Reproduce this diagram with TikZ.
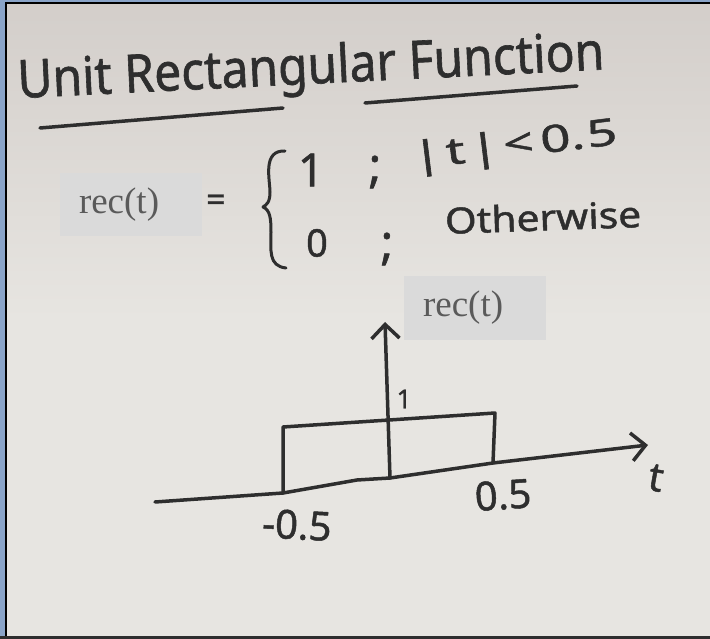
\documentclass[tikz,border=0pt]{standalone}
\usepackage{fontspec}
\setmainfont{Liberation Serif}
\newfontfamily\handfont[FakeBold=1.2]{Noto Sans}
\usepackage{xcolor}
\usetikzlibrary{arrows.meta,positioning}

\definecolor{papertop}{HTML}{D3CECA}
\definecolor{paper}{HTML}{E7E5E1}
\definecolor{ink}{HTML}{2E2E2E}
\definecolor{tagfill}{HTML}{DADADA}
\definecolor{tagtext}{HTML}{5A5A5A}
\definecolor{frameblue}{HTML}{8AA4C8}

\begin{document}
\begin{tikzpicture}[x=1pt,y=-1pt,
hand/.style={font=\handfont\fontsize{#1}{#1}\selectfont,text=ink,inner sep=0pt},
hand/.default=34,
tag/.style={fill=tagfill,text=tagtext,font=\fontsize{37}{40}\selectfont,text width=104pt,inner xsep=19pt,minimum height=63pt,inner ysep=0pt,align=left},
stroke/.style={draw=ink,line width=3.5pt,line cap=round,line join=round},
arr/.style={stroke,-{Straight Barb[length=14pt,width=28pt,line width=3.5pt]}}]
\useasboundingbox (0,0) rectangle (710,639);
% paper and frame
\shade[top color=papertop,bottom color=paper,middle color=paper] (0,0) rectangle (710,639);
\fill[frameblue] (0,0) rectangle (5,639);
\fill[frameblue] (0,0) rectangle (710,2);
\draw[black,line width=2pt] (6,639) -- (6,3) -- (710,3);
\fill[ink] (0,636) rectangle (710,639);

% title
\node[hand=48,rotate=2.8,yscale=1.1] (title) at (311,70) {Unit Rectangular Function};
\draw[stroke] (40,128) -- (283,108);
\draw[stroke] (365,103) -- (577,86);

% definition
\node[tag] (lhs) at (131,205) {rec(t)};
\node[hand=34] (eq) at (216,203) {=};
\draw[stroke,line width=3pt] (285,151) .. controls (262,150) and (270,180) .. (270,192)
  .. controls (270,203) and (266,205) .. (263,207)
  .. controls (270,210) and (271,218) .. (271,232)
  .. controls (271,250) and (268,266) .. (286,268);
\node[hand=46] (one) at (311,170) {1};
\node[hand=48] (semia) at (375,172) {;};
\node[hand=44,rotate=7,xscale=1.2,yscale=0.85] (cond) at (515,147)
  {|\hspace{4pt}t\hspace{4pt}|\hspace{4pt}<\hspace{6pt}0.\hspace{2pt}5};
\node[hand=38] (zero) at (317,243) {0};
\node[hand=48] (semib) at (387,249) {;};
\node[hand=36,rotate=2,xscale=1.13] (other) at (543,217) {Otherwise};

% graph
\node[tag] (rhs) at (475,308) {rec(t)};
\coordinate (tl) at (155,502);
\coordinate (mhalf) at (283,493);
\coordinate (kink) at (357,480);
\coordinate (orig) at (390,478);
\coordinate (phalf) at (493,463);
\coordinate (tr) at (648,445);
\coordinate (top) at (385,322);
\coordinate (ul) at (283,427);
\coordinate (ur) at (495,413);
\draw[arr] (tl) -- (mhalf) -- (kink) -- (orig) -- (phalf) -- (tr);
\draw[arr] (orig) -- (top);
\draw[stroke] (mhalf) -- (ul) -- (ur) -- (phalf);
\node[hand=26] (lone) at (404,399) {1};
\node[hand=40,rotate=-3] (lmhalf) at (297,525) {-0.5};
\node[hand=40,rotate=4] (lphalf) at (503,495) {0.5};
\node[hand=40,rotate=-10] (lt) at (656,478) {t};
\end{tikzpicture}
\end{document}
